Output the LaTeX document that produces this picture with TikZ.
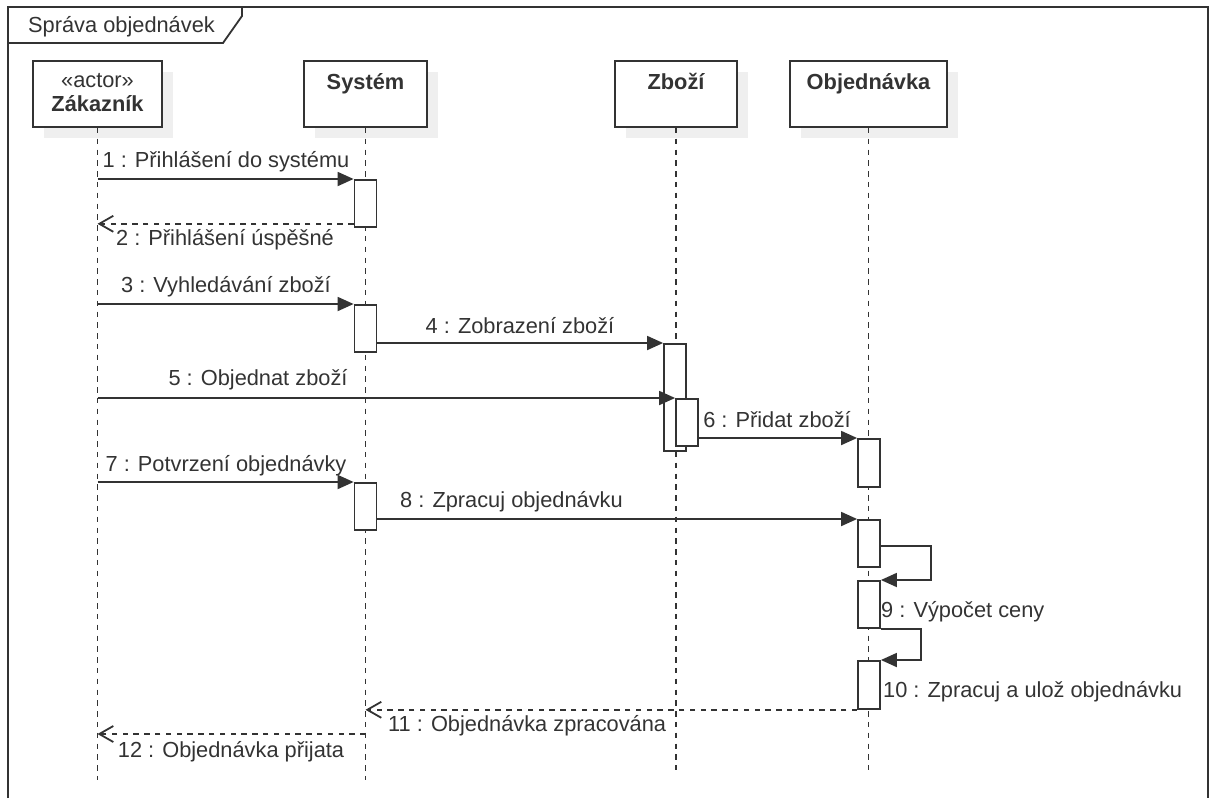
\documentclass[tikz,border=0pt]{standalone}
\usepackage{fontspec}
\setmainfont{Liberation Sans}
\usetikzlibrary{arrows.meta,shadows}
\definecolor{ink}{HTML}{333333}
\definecolor{shade}{HTML}{EFEFEF}

\begin{document}
\begin{tikzpicture}[x=1pt,y=-1pt,
  every node/.style={font=\fontsize{21.8}{26}\selectfont, text=ink, inner sep=0pt},
  frameline/.style={draw=ink, line width=1.8pt},
  headbox/.style={draw=ink, fill=white, line width=1.8pt, minimum height=66pt,
    drop shadow={shadow xshift=11pt, shadow yshift=-11pt, fill=shade, opacity=1}},
  lifeline/.style={draw=ink, line width=1.8pt, dash pattern=on 5.4pt off 5.4pt},
  bar/.style={draw=ink, fill=white, line width=1.8pt, minimum width=22pt, anchor=north},
  msg/.style={draw=ink, line width=1.8pt, -{Triangle[length=16pt,width=14pt]}},
  ret/.style={draw=ink, line width=1.8pt, dash pattern=on 5.4pt off 5.4pt,
    -{Straight Barb[length=14pt,width=16pt,line width=1.8pt]}},
  lbl/.style={anchor=base},
  lblw/.style={anchor=base west},
  hd/.style={anchor=base, font=\fontsize{21.8}{26}\selectfont\bfseries}
]
\useasboundingbox (0,0) rectangle (1214,798);

% enclosing frame with its name tab
\draw[frameline] (8,798) -- (8,7) -- (1208,7) -- (1208,798);
\draw[frameline] (8,43) -- (223,43) -- (242,16) -- (242,7);
\node[lblw] (ftitle) at (28,32) {Správa objednávek};

% participant heads
\node[headbox, minimum width=129pt] (zak) at (97.5,94) {};
\node[headbox, minimum width=123pt] (sys) at (365.5,94) {};
\node[headbox, minimum width=122pt] (zbo) at (676,94) {};
\node[headbox, minimum width=157pt] (obj) at (868.5,94) {};
\node[lbl] (zakst) at (97.5,87) {«actor»};
\node[hd] (zakname) at (97.5,111) {Zákazník};
\node[hd] (sysname) at (365.5,89) {Systém};
\node[hd] (zboname) at (676,89) {Zboží};
\node[hd] (objname) at (868.5,89) {Objednávka};

% lifelines
\coordinate (zakEnd) at (97.5,780);
\coordinate (sysEnd) at (365.5,780);
\coordinate (zboEnd) at (676,770);
\coordinate (objEnd) at (868.5,770);
\draw[lifeline] (zak.south) -- (zakEnd);
\draw[lifeline] (sys.south) -- (sysEnd);
\draw[lifeline] (zbo.south) -- (zboEnd);
\draw[lifeline] (obj.south) -- (objEnd);

% activation bars
\node[bar, minimum height=47pt] (b1) at (365.5,179) {};
\node[bar, minimum height=47pt] (b2) at (365.5,304) {};
\node[bar, minimum height=107pt] (b3) at (675,343) {};
\node[bar, minimum height=47pt] (b4) at (687,398) {};
\node[bar, minimum height=48pt] (b5) at (869,438) {};
\node[bar, minimum height=47pt] (b6) at (365.5,482) {};
\node[bar, minimum height=47pt] (b7) at (869,519) {};
\node[bar, minimum height=47pt] (b8) at (869,580) {};
\node[bar, minimum height=48pt] (b9) at (869,660) {};

% messages
\draw[msg] (zak.south |- b1.north west) -- (b1.north west);
\node[lbl] (l1) at (226,167) {1 : Přihlášení do systému};
\coordinate (m2s) at ([yshift=4pt]b1.south west);
\draw[ret] (m2s) -- (zak.south |- m2s);
\node[lbl] (l2) at (225,245) {2 : Přihlášení úspěšné};

\draw[msg] (zak.south |- b2.north west) -- (b2.north west);
\node[lbl] (l3) at (226,292) {3 : Vyhledávání zboží};

\draw[msg] (b2.east |- b3.north) -- (b3.north west);
\node[lbl] (l4) at (520,333) {4 : Zobrazení zboží};

\draw[msg] (zak.south |- b4.north west) -- (b4.north west);
\node[lbl] (l5) at (258,385) {5 : Objednat zboží};

\draw[msg] (b4.east |- b5.north) -- (b5.north west);
\node[lbl] (l6) at (777,427) {6 : Přidat zboží};

\draw[msg] (zak.south |- b6.north west) -- (b6.north west);
\node[lbl] (l7) at (226,471) {7 : Potvrzení objednávky};

\draw[msg] (b6.east |- b7.north) -- (b7.north west);
\node[lblw] (l8) at (400,507) {8 : Zpracuj objednávku};

\draw[msg] ([yshift=-27pt]b7.north east) -- ++(50,0) |- (b8.north east);
\node[lblw] (l9) at (881,617) {9 : Výpočet ceny};

\draw[msg] (b8.south east) -- ++(40,0) |- (b9.north east);
\node[lblw] (l10) at (883,697) {10 : Zpracuj a ulož objednávku};

\draw[ret] (b9.south west) -- (sys.south |- b9.south west);
\node[lblw] (l11) at (388,731) {11 : Objednávka zpracována};

\coordinate (m12s) at (365.5,734);
\coordinate (m12e) at (97.5,734);
\draw[ret] (m12s) -- (m12e);
\node[lbl] (l12) at (231,757) {12 : Objednávka přijata};
\end{tikzpicture}
\end{document}
